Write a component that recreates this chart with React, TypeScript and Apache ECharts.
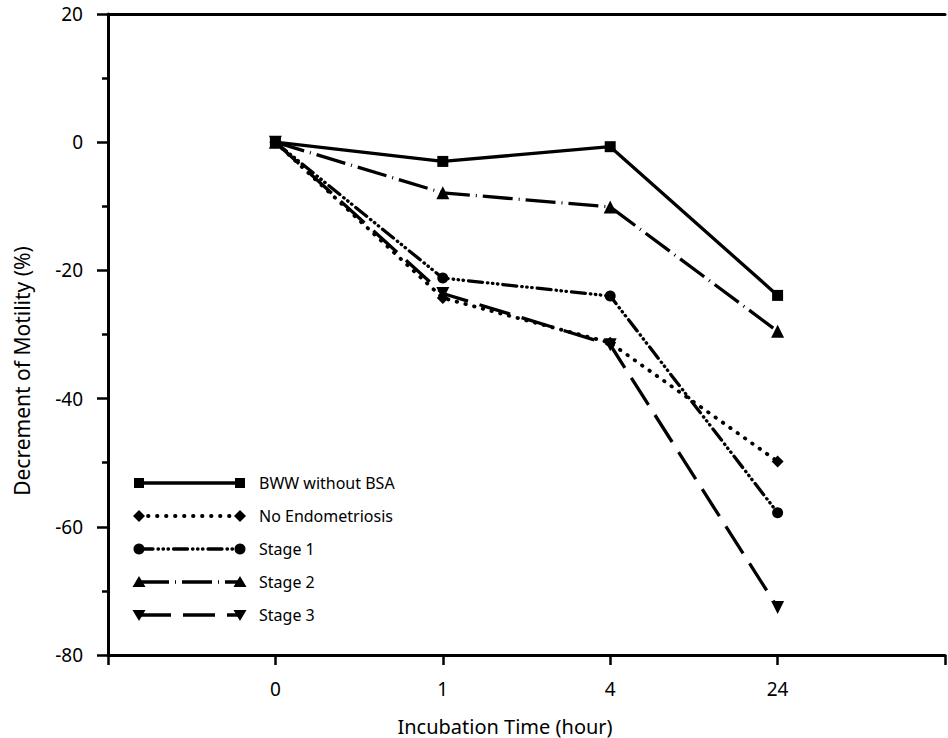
import React, { useEffect, useRef } from "react";
import * as echarts from "echarts";

const categories = ["0", "1", "4", "24"];
const seriesNames = ["BWW without BSA", "No Endometriosis", "Stage 1", "Stage 2", "Stage 3"];
const bww = [0, -3.0, -0.7, -23.9];
const noEndo = [0, -24.3, -31.3, -49.8];
const stage1 = [0, -21.2, -24.0, -57.8];
const stage2 = [0, -7.9, -10.1, -29.5];
const stage3 = [0, -23.6, -31.6, -72.6];
const yMin = -80;
const yMax = 20;
const yStep = 20;
const xTitle = "Incubation Time (hour)";
const yTitle = "Decrement of Motility (%)";

const FONT = "'Noto Sans', 'DejaVu Sans', sans-serif";

const symbolKinds = ["square", "diamond", "circle", "up", "down"];
const dashes: (number[] | "solid")[] = [
  "solid",
  [0.5, 8.5],
  [14, 5, 0.5, 4.5, 0.5, 4.5, 0.5, 5],
  [30, 6, 1, 6],
  [32, 12],
];
const symbolMap: Record<string, { symbol: string; size: number; rotate: number }> = {
  square: { symbol: "rect", size: 11, rotate: 0 },
  diamond: { symbol: "diamond", size: 12, rotate: 0 },
  circle: { symbol: "circle", size: 11, rotate: 0 },
  up: { symbol: "triangle", size: 13, rotate: 0 },
  down: { symbol: "triangle", size: 13, rotate: 180 },
};

function legendSymbol(kind: string, cx: number, cy: number): any {
  const fill = { fill: "#000" };
  if (kind === "square") return { type: "rect", shape: { x: cx - 5, y: cy - 5, width: 10, height: 10 }, style: fill };
  if (kind === "circle") return { type: "circle", shape: { cx, cy, r: 5.5 }, style: fill };
  if (kind === "diamond")
    return { type: "polygon", shape: { points: [[cx, cy - 6], [cx + 6, cy], [cx, cy + 6], [cx - 6, cy]] }, style: fill };
  if (kind === "up")
    return { type: "polygon", shape: { points: [[cx, cy - 6], [cx + 6.5, cy + 5], [cx - 6.5, cy + 5]] }, style: fill };
  return { type: "polygon", shape: { points: [[cx, cy + 6], [cx + 6.5, cy - 5], [cx - 6.5, cy - 5]] }, style: fill };
}

export default function App() {
  const ref = useRef<HTMLDivElement>(null);
  useEffect(() => {
    document.body.style.margin = "0";
    if (!ref.current) return;
    const chart = echarts.init(ref.current, undefined, { renderer: "svg" });
    const allData = [bww, noEndo, stage1, stage2, stage3];

    const series = allData.map((vals, i) => {
      const sm = symbolMap[symbolKinds[i]];
      return {
        name: seriesNames[i],
        type: "line",
        data: vals.map((v, j) => [j, v]),
        symbol: sm.symbol,
        symbolSize: sm.size,
        symbolRotate: sm.rotate,
        itemStyle: { color: "#000" },
        lineStyle: {
          color: "#000",
          width: i === 1 ? 3.8 : 3.3,
          type: dashes[i],
          cap: i === 1 || i === 2 ? "round" : "butt",
        },
        z: 10 - i,
      };
    });

    const els: any[] = [];
    const rowY0 = 483;
    const rowGap = 33;
    seriesNames.forEach((name, i) => {
      const cy = rowY0 + i * rowGap;
      const d = dashes[i];
      els.push({
        type: "line",
        shape: { x1: 139, y1: cy, x2: 240, y2: cy },
        style: {
          stroke: "#000",
          lineWidth: i === 1 ? 3.8 : 3.3,
          lineDash: d === "solid" ? null : d,
          lineCap: i === 1 || i === 2 ? "round" : "butt",
        },
      });
      els.push(legendSymbol(symbolKinds[i], 139, cy));
      els.push(legendSymbol(symbolKinds[i], 240, cy));
      els.push({
        type: "text",
        x: 259,
        y: cy,
        style: {
          text: name,
          font: `16px ${FONT}`,
          fill: "#000",
          verticalAlign: "middle",
          align: "left",
        },
      });
    });
    els.push({
      type: "text",
      x: 505,
      y: 726,
      style: { text: xTitle, font: `20px ${FONT}`, fill: "#000", align: "center", verticalAlign: "middle" },
    });
    els.push({
      type: "text",
      x: 22,
      y: 371,
      rotation: Math.PI / 2,
      style: { text: yTitle, font: `21px ${FONT}`, fill: "#000", align: "center", verticalAlign: "middle" },
    });

    chart.setOption({
      animation: false,
      backgroundColor: "#fff",
      grid: { left: 108, right: 0, top: 14, bottom: 83, containLabel: false },
      xAxis: [
        {
          type: "value",
          min: -1,
          max: 4,
          interval: 1,
          axisLine: { show: true, onZero: false, lineStyle: { color: "#000", width: 3 } },
          axisTick: { show: true, length: 10, lineStyle: { color: "#000", width: 2.5 } },
          axisLabel: {
            color: "#000",
            fontSize: 19,
            fontFamily: FONT,
            margin: 24,
            formatter: (v: number) => (categories[v] !== undefined ? categories[v] : ""),
          },
          splitLine: { show: false },
        },
        {
          type: "value",
          position: "top",
          min: -1,
          max: 4,
          axisLine: { show: true, onZero: false, lineStyle: { color: "#000", width: 3 } },
          axisTick: { show: false },
          axisLabel: { show: false },
          splitLine: { show: false },
        },
      ],
      yAxis: {
        type: "value",
        min: yMin,
        max: yMax,
        interval: yStep,
        axisLine: { show: true, onZero: false, lineStyle: { color: "#000", width: 3 } },
        axisTick: { show: true, length: 11, lineStyle: { color: "#000", width: 2.5 } },
        minorTick: { show: true, splitNumber: 2, length: 6, lineStyle: { color: "#000", width: 2.5 } },
        axisLabel: { color: "#000", fontSize: 19, fontFamily: FONT, margin: 25 },
        splitLine: { show: false },
        minorSplitLine: { show: false },
      },
      graphic: { elements: els },
      series,
    });
    return () => chart.dispose();
  }, []);
  return (
    <div
      ref={ref}
      style={{ position: "absolute", left: 0, top: 0, width: 948, height: 738 }}
    />
  );
}
